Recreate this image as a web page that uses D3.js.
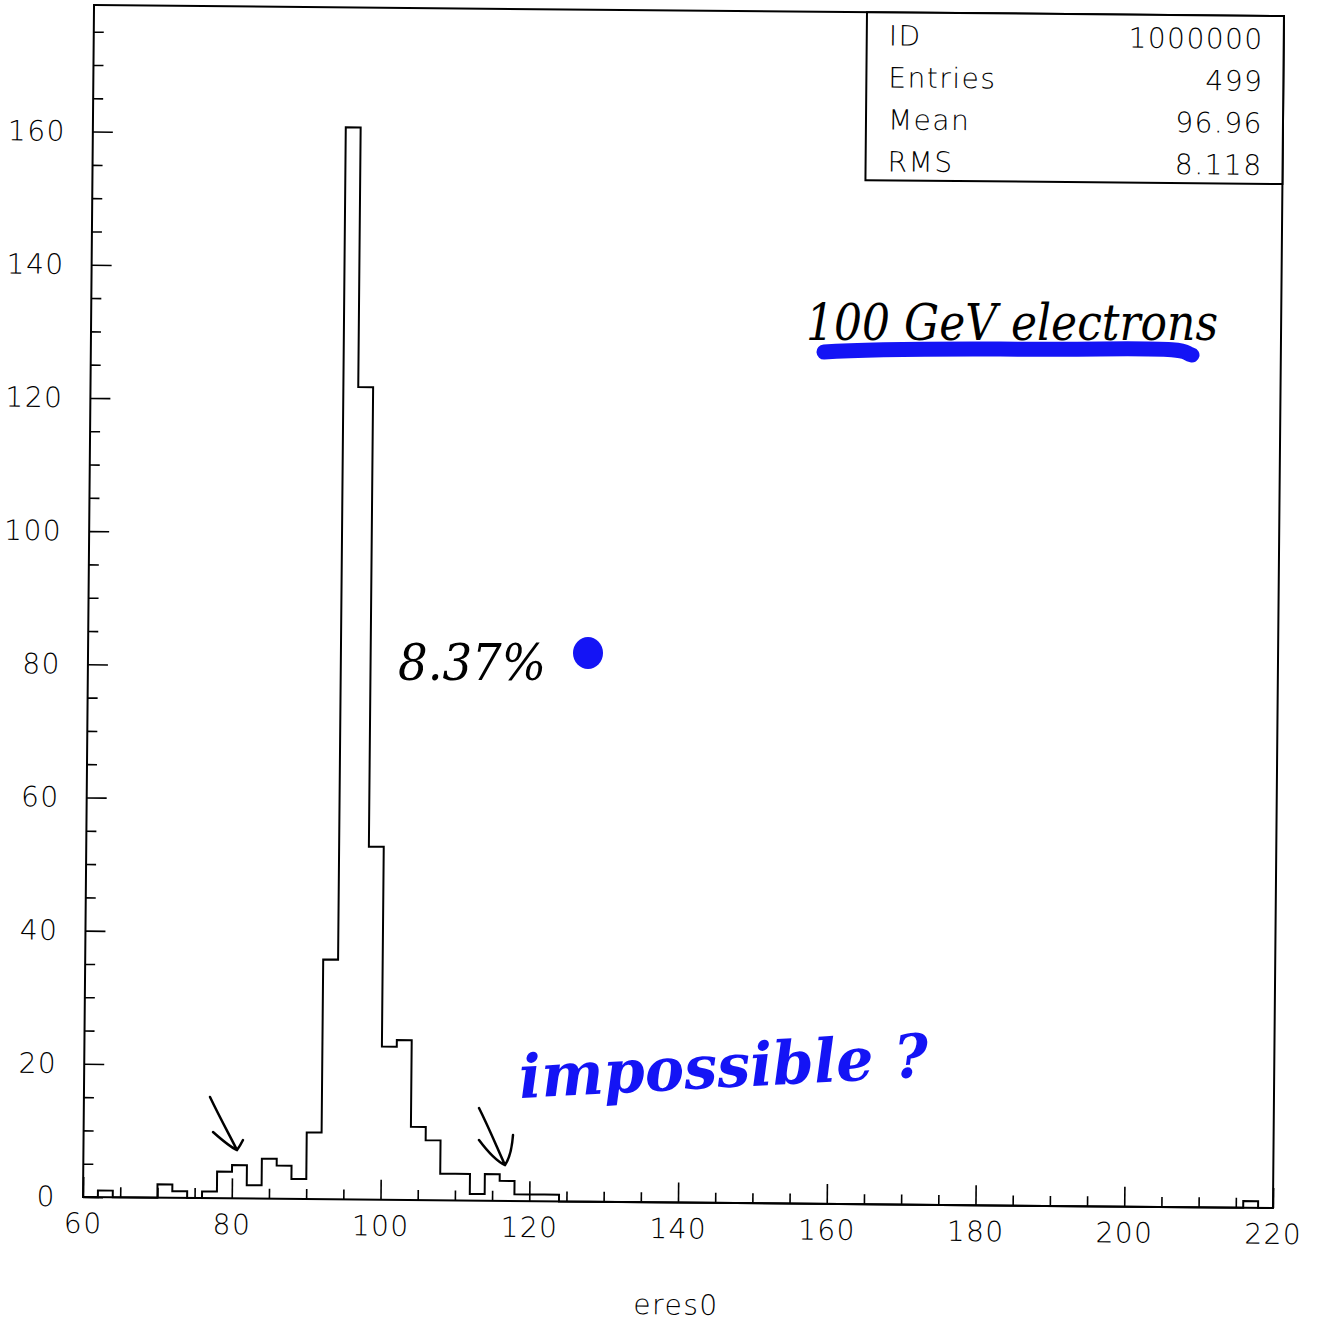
<!DOCTYPE html>
<html>
<head>
<meta charset="utf-8">
<script src="https://cdn.jsdelivr.net/npm/d3@7"></script>
<style>
  body { margin: 0; background: #fff; }
  svg { display: block; }
  .tick text { font-family: "DejaVu Sans", sans-serif; font-size: 28px; font-weight: 200; letter-spacing: 1.5px; fill: #000; }
  .tick line { stroke: #000; stroke-width: 1.6; }
  .domain { display: none; }
</style>
</head>
<body>
<div class="chart"></div>
<script>
'use strict'

// histogram eres0, bins of width 2 (only non-empty bins listed)
const binLo    = [62, 70, 72, 76, 78, 80, 82, 84, 86, 88, 90, 92, 94, 96, 98, 100, 102, 104, 106, 108, 110, 112, 114, 116, 118, 120, 122, 216];
const binCount = [1, 2, 1, 1, 4, 5, 2, 6, 5, 3, 10, 36, 161, 122, 53, 23, 24, 11, 9, 4, 4, 1, 4, 3, 1, 1, 1, 1];
const binWidth = 2;

const xTicks = [60, 80, 100, 120, 140, 160, 180, 200, 220];
const yTicks = [0, 20, 40, 60, 80, 100, 120, 140, 160];

const statNames  = ['ID', 'Entries', 'Mean', 'RMS'];
const statValues = ['1000000', '499', '96.96', '8.118'];

const width = 1319;
const height = 1324;
const pLeft = 83, pRight = 1273, pTop = 5, pBottom = 1197;
const tilt = 0.53;   // the scanned page is a bit rotated

const xScale = d3.scaleLinear().domain([60, 220]).range([pLeft, pRight]);
const yScale = d3.scaleLinear().domain([0, 179]).range([pBottom, pTop]);

const svg = d3.select('.chart')
              .append('svg')
              .attr('width', width)
              .attr('height', height);

const g = svg.append('g')
             .attr('transform', 'rotate(' + tilt + ',' + pLeft + ',' + pBottom + ')');

/* frame */
g.append('rect')
  .attr('x', pLeft).attr('y', pTop)
  .attr('width', pRight - pLeft).attr('height', pBottom - pTop)
  .attr('fill', 'none').attr('stroke', '#000').attr('stroke-width', 2);

/* Y AXIS : majors with labels, minors every 5 */
g.append('g')
  .attr('transform', 'translate(' + pLeft + ',0)')
  .call(d3.axisLeft(yScale).tickValues(yTicks).tickSize(-20).tickPadding(27).tickFormat(d3.format('d')));
g.append('g')
  .attr('transform', 'translate(' + pLeft + ',0)')
  .call(d3.axisLeft(yScale).tickValues(d3.range(5, 179, 5).filter(d => d % 20)).tickSize(-10).tickFormat(''));

/* X AXIS */
g.append('g')
  .attr('transform', 'translate(0,' + pBottom + ')')
  .call(d3.axisBottom(xScale).tickValues(xTicks).tickSize(-20).tickPadding(16).tickFormat(d3.format('d')));
g.append('g')
  .attr('transform', 'translate(0,' + pBottom + ')')
  .call(d3.axisBottom(xScale).tickValues(d3.range(65, 220, 5).filter(d => d % 20)).tickSize(-10).tickFormat(''));

g.append('text')
  .attr('x', 677).attr('y', 1309)
  .attr('text-anchor', 'middle')
  .style('font-family', '"DejaVu Sans", sans-serif')
  .style('font-size', '28px').style('font-weight', 200).style('letter-spacing', '1.5px')
  .text('eres0');

/* histogram outline */
const steps = [{x: 60, y: 0}];
binLo.forEach((lo, i) => {
    const prev = steps[steps.length - 1];
    if (prev.x < lo) steps.push({x: prev.x, y: 0}, {x: lo, y: 0});
    steps.push({x: lo, y: binCount[i]});
    steps.push({x: lo + binWidth, y: binCount[i]});
});
steps.push({x: steps[steps.length - 1].x, y: 0}, {x: 220, y: 0});

g.append('path')
  .datum(steps)
  .attr('fill', 'none')
  .attr('stroke', '#000')
  .attr('stroke-width', 2)
  .attr('d', d3.line().x(d => xScale(d.x)).y(d => yScale(d.y)));

/* stats box */
const boxX = 856, boxW = pRight - boxX, boxH = 168;
g.append('rect')
  .attr('x', boxX).attr('y', pTop)
  .attr('width', boxW).attr('height', boxH)
  .attr('fill', '#fff').attr('stroke', '#000').attr('stroke-width', 2);

const rows = g.selectAll('.stat')
  .data(statNames)
  .enter()
  .append('g')
  .attr('class', 'stat')
  .style('font-family', '"DejaVu Sans", sans-serif')
  .style('font-size', '28px').style('font-weight', 200).style('letter-spacing', '1.5px');
rows.append('text')
  .attr('x', boxX + 22)
  .attr('y', (d, i) => 38 + i * 42)
  .text(d => d);
rows.append('text')
  .attr('x', pRight - 20)
  .attr('y', (d, i) => 38 + i * 42)
  .attr('text-anchor', 'end')
  .text((d, i) => statValues[i]);

/* hand-written notes on the print-out */
const ink = '#000', pen = '#1414f5';

svg.append('path')
   .attr('d', 'M824,352 C900,347 1000,350 1100,349 S1180,352 1192,355')
   .attr('fill', 'none').attr('stroke', pen).attr('stroke-width', 15).attr('stroke-linecap', 'round');
svg.append('text')
   .attr('x', 806).attr('y', 340)
   .attr('textLength', 412).attr('lengthAdjust', 'spacingAndGlyphs')
   .style('font-family', '"DejaVu Serif", serif').style('font-style', 'italic')
   .style('font-size', '50px').attr('fill', ink)
   .text('100 GeV electrons');

svg.append('text')
   .attr('x', 398).attr('y', 680)
   .attr('textLength', 148).attr('lengthAdjust', 'spacingAndGlyphs')
   .style('font-family', '"DejaVu Serif", serif').style('font-style', 'italic')
   .style('font-size', '50px').attr('fill', ink)
   .text('8.37%');
svg.append('ellipse')
   .attr('cx', 588).attr('cy', 653).attr('rx', 15).attr('ry', 16)
   .attr('fill', pen);

svg.append('text')
   .attr('transform', 'rotate(-3,520,1098)')
   .attr('x', 520).attr('y', 1098)
   .attr('textLength', 410).attr('lengthAdjust', 'spacingAndGlyphs')
   .style('font-family', '"DejaVu Serif", serif').style('font-style', 'italic').style('font-weight', 'bold')
   .style('font-size', '60px').attr('fill', pen)
   .text('impossible ?');

const arrows = [
    'M210,1097 C220,1118 230,1136 237,1150 M213,1132 C222,1140 230,1147 237,1150 C240,1146 242,1142 243,1140',
    'M479,1108 C490,1130 498,1150 505,1165 M479,1140 C488,1152 498,1162 505,1165 C510,1158 512,1148 513,1135'
];
svg.selectAll('.arrow')
   .data(arrows)
   .enter()
   .append('path')
   .attr('class', 'arrow')
   .attr('d', d => d)
   .attr('fill', 'none').attr('stroke', ink).attr('stroke-width', 2.5).attr('stroke-linecap', 'round');
</script>
</body>
</html>
